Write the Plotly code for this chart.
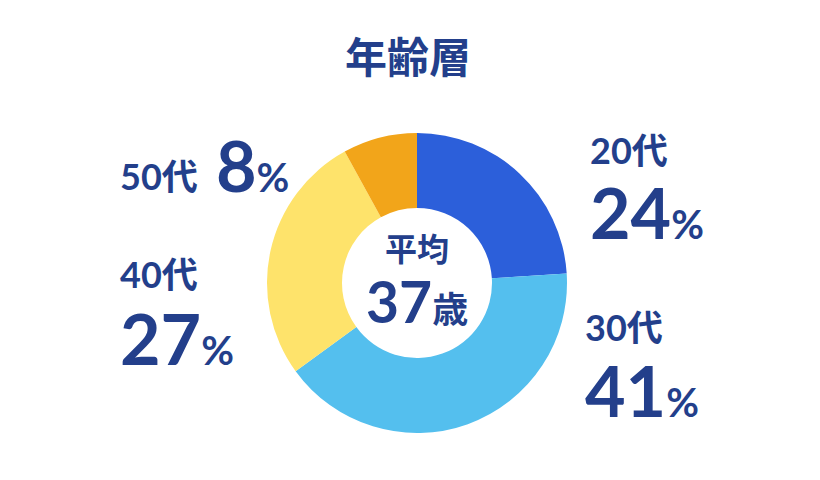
import plotly.graph_objects as go

# --------------------------------------------------------------------------- #
#  Data
# --------------------------------------------------------------------------- #
age_groups = ["20代", "30代", "40代", "50代"]
shares     = [24, 41, 27, 8]
colors     = ["#2C5FDA", "#54BFEE", "#FEE36B", "#F2A51A"]

title_text   = "年齢層"
center_label = "平均"
center_value = "37"
center_unit  = "歳"

TEXT_COLOR = "#233F8B"
NUM_FONT   = "Lato, 'Noto Sans CJK JP', sans-serif"
JP_FONT    = "'Noto Sans CJK JP', Lato, sans-serif"

W, H = 820, 480
OFF = 8  # page body margin pushes the figure right/down

# label anchor points in pixels (left x, centre y of group label, centre y of percentage)
label_pos = {
    "20代": (588, 150, 212),
    "30代": (583, 327, 390),
    "40代": (118, 274, 338),
}


def px(x, y):
    """Pixel (as seen in the page) -> paper coordinates."""
    return (x - OFF) / W, 1 - (y - OFF) / H


x0, y_top = px(267, 133)
x1, y_bot = px(567, 433)

fig = go.Figure(
    go.Pie(
        labels=age_groups,
        values=shares,
        marker=dict(colors=colors, line=dict(width=0)),
        hole=0.5,
        sort=False,
        direction="clockwise",
        rotation=0,
        textinfo="none",
        hoverinfo="label+percent",
        domain=dict(x=[x0, x1], y=[y_bot, y_top]),
        showlegend=False,
    )
)

annotations = []

# title
tx, ty = px(408, 55)
annotations.append(dict(
    x=tx, y=ty, text=f"<b>{title_text}</b>", showarrow=False,
    font=dict(family=JP_FONT, size=42, color=TEXT_COLOR),
    xanchor="center", yanchor="middle",
))

# centre text: one annotation, two lines (line spacing follows the base size)
center_text = (
    f"<b><span style='font-size:32px;font-family:Noto Sans CJK JP'>{center_label}</span><br>"
    f"<span style='font-size:57px'>{center_value}</span>"
    f"<span style='font-size:36px;font-family:Noto Sans CJK JP'>{center_unit}</span></b>"
)
cx, cy = px(417, 279)
annotations.append(dict(
    x=cx, y=cy, text=center_text, showarrow=False,
    font=dict(family=NUM_FONT, size=48, color=TEXT_COLOR),
    xanchor="center", yanchor="middle", align="center",
))

# outer labels
for grp, val in zip(age_groups, shares):
    pct = f"<b>{val}<span style='font-size:40px'>%</span></b>"
    if grp in label_pos:
        lx, gy, py = label_pos[grp]
        gx_, gy_ = px(lx, gy)
        annotations.append(dict(
            x=gx_, y=gy_, text=f"<b>{grp}</b>", showarrow=False,
            font=dict(family=NUM_FONT, size=36, color=TEXT_COLOR),
            xanchor="left", yanchor="middle",
        ))
        px_, py_ = px(lx, py)
        annotations.append(dict(
            x=px_, y=py_, text=pct, showarrow=False,
            font=dict(family=NUM_FONT, size=70, color=TEXT_COLOR),
            xanchor="left", yanchor="middle",
        ))
    else:
        # 50代 sits on a single line with its percentage
        gx_, gy_ = px(118, 176)
        annotations.append(dict(
            x=gx_, y=gy_, text=f"<b>{grp}</b>", showarrow=False,
            font=dict(family=NUM_FONT, size=36, color=TEXT_COLOR),
            xanchor="left", yanchor="middle",
        ))
        px_, py_ = px(214, 165)
        annotations.append(dict(
            x=px_, y=py_, text=pct, showarrow=False,
            font=dict(family=NUM_FONT, size=70, color=TEXT_COLOR),
            xanchor="left", yanchor="middle",
        ))

fig.update_layout(
    width=W,
    height=H,
    margin=dict(l=0, r=0, t=0, b=0),
    paper_bgcolor="white",
    plot_bgcolor="white",
    annotations=annotations,
)

fig.write_html("out.html")
